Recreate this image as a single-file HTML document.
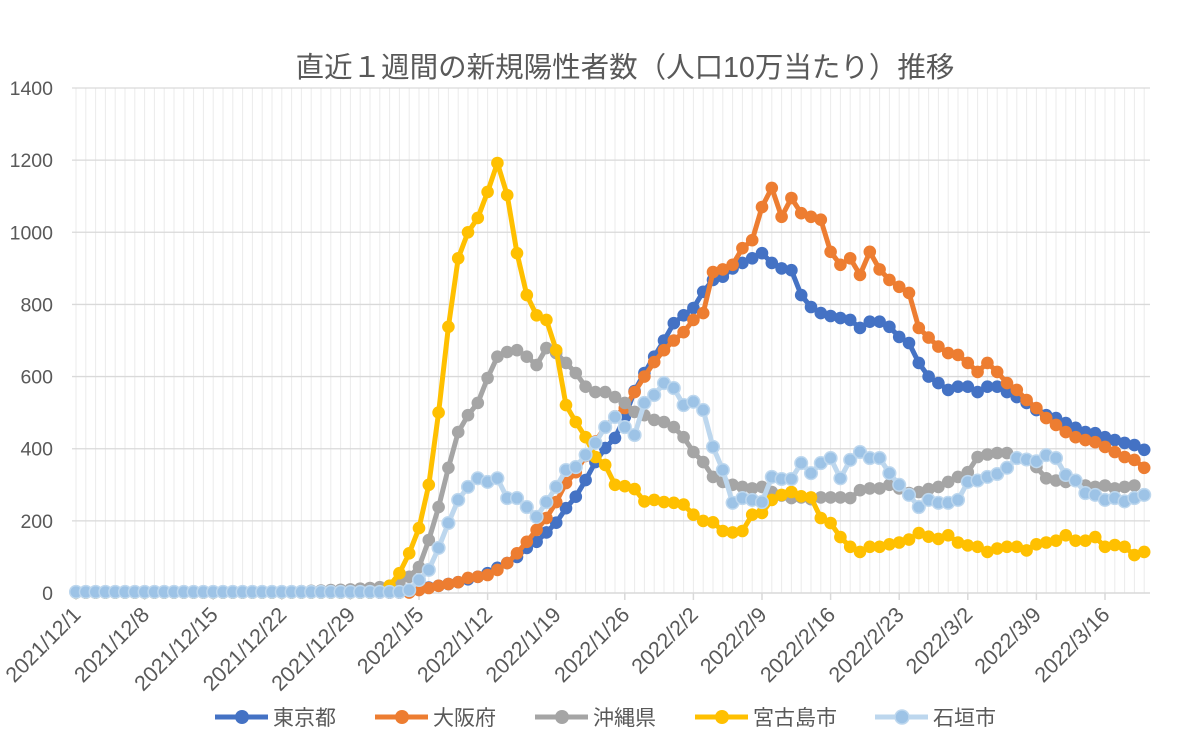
<!DOCTYPE html>
<html><head><meta charset="utf-8"><style>
body{margin:0;background:#fff;}
svg text{font-family:"Liberation Sans","Noto Sans CJK JP",sans-serif;fill:#595959;}
</style></head><body>
<svg id="c" width="1185" height="739" xmlns="http://www.w3.org/2000/svg">
<text x="625" y="77" font-size="28.5" text-anchor="middle">直近１週間の新規陽性者数（人口10万当たり）推移</text>
<g id="g"></g>
<g font-size="21">
<line x1="215" y1="717" x2="268" y2="717" stroke="#4472C4" stroke-width="5"/><circle cx="242" cy="717" r="7" fill="#4472C4"/><text x="273" y="725">東京都</text>
<line x1="375" y1="717" x2="428" y2="717" stroke="#ED7D31" stroke-width="5"/><circle cx="402" cy="717" r="7" fill="#ED7D31"/><text x="433" y="725">大阪府</text>
<line x1="535" y1="717" x2="588" y2="717" stroke="#A5A5A5" stroke-width="5"/><circle cx="562" cy="717" r="7" fill="#A5A5A5"/><text x="593" y="725">沖縄県</text>
<line x1="695" y1="717" x2="748" y2="717" stroke="#FFC000" stroke-width="5"/><circle cx="722" cy="717" r="7" fill="#FFC000"/><text x="753" y="725">宮古島市</text>
<line x1="875" y1="717" x2="928" y2="717" stroke="#BDD7EE" stroke-width="5"/><circle cx="902" cy="717" r="7" fill="#9DC3E6" stroke="#BDD7EE" stroke-width="1.5"/><text x="933" y="725">石垣市</text>
</g>
</svg>
<script>
function z(n,v){return Array(n).fill(v);}
var T=z(34,1).concat([5,10,15,20,25,30,38,45,55,70,83,100,125,142,168,195,235,267,313,363,402,430,488,560,610,655,700,748,770,790,835,868,877,900,915,928,942,915,900,895,826,793,776,768,762,757,735,752,752,738,710,693,638,600,582,563,572,572,557,572,572,557,543,527,507,493,485,471,458,446,443,432,424,416,410,397]);
var O=z(35,1).concat([8,14,20,25,30,42,45,50,64,83,110,142,175,208,252,305,335,380,420,460,490,513,557,600,640,673,700,723,757,776,890,897,910,956,978,1070,1123,1043,1095,1053,1043,1035,946,910,928,882,946,897,868,849,832,735,708,683,665,660,638,613,638,613,582,563,535,513,485,466,446,432,424,418,405,391,377,369,347]);
var K=[2,2,2,2,2,2,2,3,3,3,3,3,3,3,3,3,3,4,4,4,4,4,4,5,6,7,8,9,10,12,14,16,20,30,45,72,147,238,347,446,493,527,596,655,668,673,655,632,679,665,638,610,572,557,557,543,527,502,493,480,474,460,432,391,363,322,308,300,294,290,294,280,270,263,265,260,265,265,265,263,285,290,290,300,290,277,280,288,294,308,322,335,377,384,388,388,374,370,349,318,312,308,312,298,294,298,290,294,298];
K.splice(0,K.length-110);
var M=z(31,1).concat([5,20,55,110,180,300,500,738,928,1000,1040,1112,1192,1103,942,826,770,757,673,521,474,432,377,355,300,296,288,254,258,252,250,245,217,200,196,172,168,172,217,222,258,272,280,268,265,208,194,155,128,114,128,128,135,140,148,166,156,150,160,140,132,128,114,123,128,128,118,135,140,145,160,145,145,155,128,133,128,105,114]);
var I=z(34,3).concat([8,36,64,125,194,258,294,318,308,318,263,263,238,211,252,294,341,349,383,416,460,488,460,438,527,549,582,568,521,530,507,405,341,250,263,258,252,322,316,316,360,332,360,374,318,369,391,374,374,332,300,272,238,258,250,250,258,308,312,322,330,347,374,370,365,382,374,327,312,277,272,258,263,254,263,272]);
var x0=76,dx=9.8,y0=593,sy=505/1400;
function X(i){return x0+i*dx} function Y(v){return y0-v*sy}
var s='';
for(var i=0;i<110;i++)s+='<line x1="'+X(i)+'" y1="88" x2="'+X(i)+'" y2="593" stroke="#ebebeb" stroke-width="1"/>';
for(var v=200;v<=1400;v+=200)s+='<line x1="72" y1="'+Y(v)+'" x2="1150" y2="'+Y(v)+'" stroke="#d9d9d9" stroke-width="1.3"/>';
for(var v=0;v<=1400;v+=200)s+='<text x="53" y="'+(Y(v)+7)+'" font-size="19.5" text-anchor="end">'+v+'</text>';
s+='<line x1="72" y1="593" x2="1150" y2="593" stroke="#d9d9d9" stroke-width="1.5"/>';
var L=['2021/12/1','2021/12/8','2021/12/15','2021/12/22','2021/12/29','2022/1/5','2022/1/12','2022/1/19','2022/1/26','2022/2/2','2022/2/9','2022/2/16','2022/2/23','2022/3/2','2022/3/9','2022/3/16'];
for(var k=0;k<L.length;k++){var tx=X(k*7);s+='<line x1="'+tx+'" y1="593" x2="'+tx+'" y2="600" stroke="#d9d9d9" stroke-width="1.5"/>';
s+='<text transform="translate('+(tx+6)+',616) rotate(-45)" font-size="21.5" text-anchor="end">'+L[k]+'</text>';}
function ser(d,c,mc,ms){var p='';for(var i=0;i<d.length;i++)p+=(i?'L':'M')+X(i).toFixed(1)+' '+Y(d[i]).toFixed(1);
var r='<path d="'+p+'" fill="none" stroke="'+c+'" stroke-width="5" stroke-linejoin="round"/>';
for(var i=0;i<d.length;i++)r+='<circle cx="'+X(i).toFixed(1)+'" cy="'+Y(d[i]).toFixed(1)+'" r="6.3" fill="'+mc+'"'+(ms?' stroke="'+ms+'" stroke-width="1.5"':'')+'/>';return r;}
s+=ser(T,'#4472C4','#4472C4');s+=ser(O,'#ED7D31','#ED7D31');s+=ser(K,'#A5A5A5','#A5A5A5');s+=ser(M,'#FFC000','#FFC000');s+=ser(I,'#BDD7EE','#9DC3E6','#BDD7EE');
document.getElementById('g').innerHTML=s;
</script>
</body></html>
